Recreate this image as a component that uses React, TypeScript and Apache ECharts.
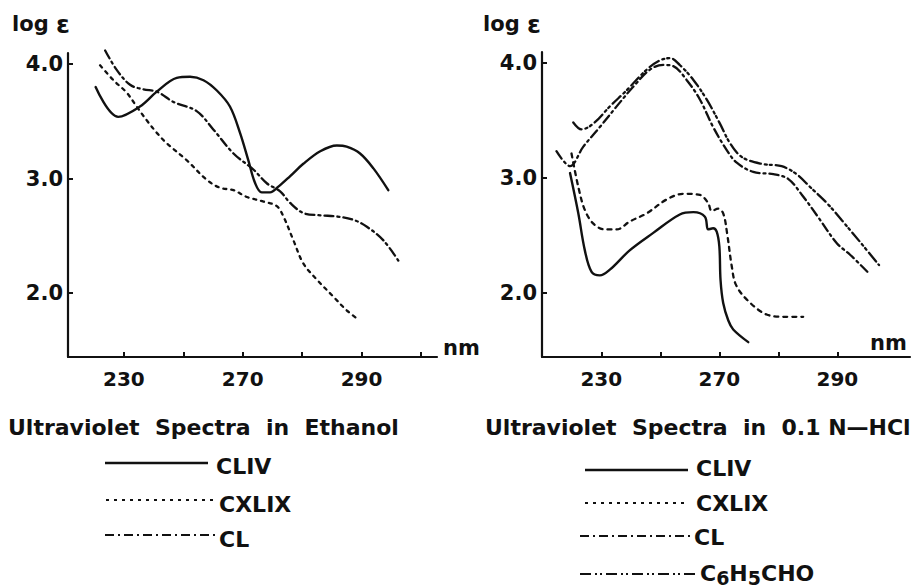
import React, { useEffect, useRef } from "react";
import * as echarts from "echarts";

// ---- axis ticks / labels ----
const xTickValuesLeft = [230, 250, 270, 290, 310, 330];
const xTickValuesRight = [230, 250, 270, 290, 310];
const xLabelValues = [230, 270, 310];
const xLabelTexts = ["230", "270", "290"];
const yLabelValues = [2, 3, 4];

// ---- Ethanol panel ----
const ethCLIV_nm = [220.5, 228.1, 235.4, 241.1, 247.8, 252.3, 256.8, 261.3, 265.7, 269.1, 271.9, 274.2, 276.4, 279.2, 282.0, 285.9, 290.4, 296.1, 301.7, 305.0, 309.5, 314.0, 319.0];
const ethCLIV_log = [3.80, 3.54, 3.63, 3.76, 3.88, 3.89, 3.86, 3.77, 3.63, 3.40, 3.16, 2.96, 2.88, 2.88, 2.93, 3.02, 3.13, 3.24, 3.29, 3.28, 3.22, 3.09, 2.90];

const ethCXLIX_nm = [222.0, 226.5, 231.0, 234.3, 237.7, 241.1, 244.4, 251.2, 257.9, 262.4, 266.9, 271.4, 277.0, 281.5, 283.7, 287.1, 290.4, 294.9, 300.5, 305.0, 308.9];
const ethCXLIX_log = [3.99, 3.86, 3.75, 3.63, 3.51, 3.40, 3.31, 3.16, 2.99, 2.92, 2.90, 2.84, 2.80, 2.76, 2.67, 2.46, 2.26, 2.12, 1.97, 1.85, 1.77];

const ethCL_nm = [223.7, 227.6, 232.1, 236.6, 241.1, 246.7, 254.5, 260.1, 266.9, 273.6, 278.1, 282.6, 285.9, 290.4, 296.1, 301.7, 307.3, 311.8, 317.4, 323.0];
const ethCL_log = [4.12, 3.95, 3.82, 3.78, 3.76, 3.67, 3.59, 3.43, 3.22, 3.08, 2.96, 2.89, 2.79, 2.70, 2.68, 2.67, 2.64, 2.58, 2.46, 2.26];

// ---- 0.1 N-HCl panel ----
const hclCLIV_nm = [219.4, 222.2, 224.4, 226.7, 229.5, 232.9, 239.7, 247.6, 256.6, 261.2, 265.1, 266.2, 267.9, 269.1, 270.0, 270.4, 271.3, 273.0, 274.7, 279.8];
const hclCLIV_log = [3.04, 2.69, 2.37, 2.18, 2.15, 2.20, 2.37, 2.52, 2.68, 2.70, 2.66, 2.55, 2.56, 2.53, 2.40, 2.11, 1.91, 1.76, 1.68, 1.57];

const hclCXLIX_nm = [219.9, 222.2, 224.4, 227.3, 231.2, 235.2, 239.7, 245.4, 252.1, 257.8, 263.4, 266.2, 267.4, 269.6, 271.3, 272.6, 274.2, 275.6, 279.3, 286.0, 292.2, 298.4];
const hclCXLIX_log = [3.21, 2.92, 2.72, 2.60, 2.55, 2.55, 2.62, 2.69, 2.81, 2.86, 2.85, 2.78, 2.71, 2.73, 2.69, 2.52, 2.23, 2.07, 1.94, 1.81, 1.79, 1.79];

const hclCL_nm = [214.8, 219.4, 223.9, 229.5, 235.2, 240.8, 246.5, 251.0, 254.4, 258.9, 263.4, 267.9, 272.5, 275.9, 281.5, 288.3, 293.3, 298.0, 303.4, 309.8, 314.3, 320.2];
const hclCL_log = [3.23, 3.10, 3.27, 3.44, 3.62, 3.79, 3.94, 3.98, 3.97, 3.85, 3.68, 3.44, 3.24, 3.13, 3.05, 3.03, 2.99, 2.85, 2.66, 2.43, 2.33, 2.18];

const hclBenz_nm = [220.5, 223.3, 227.3, 232.9, 238.6, 245.4, 249.9, 253.3, 256.6, 261.2, 265.7, 270.2, 273.6, 277.6, 284.3, 291.1, 296.2, 300.7, 306.4, 311.5, 317.7, 324.1];
const hclBenz_log = [3.48, 3.42, 3.47, 3.62, 3.76, 3.94, 4.02, 4.04, 3.98, 3.85, 3.68, 3.47, 3.30, 3.18, 3.12, 3.10, 3.03, 2.92, 2.78, 2.63, 2.44, 2.24];

const INK = "#111";
const FONT = "DejaVu Sans";

const zip = (xs: number[], ys: number[]) => xs.map((x, i) => [x, ys[i]]);

function xAxis(gridIndex: number, min: number, max: number, ticks: number[]) {
  return {
    type: "value",
    gridIndex,
    min,
    max,
    axisLine: { show: true, onZero: false, lineStyle: { color: INK, width: 2.2 } },
    axisTick: { show: true, inside: true, length: 5, customValues: ticks, lineStyle: { color: INK, width: 2 } },
    axisLabel: {
      show: true,
      customValues: xLabelValues,
      formatter: (v: number) => {
        const i = xLabelValues.indexOf(Math.round(v));
        return i >= 0 ? xLabelTexts[i] : "";
      },
      color: INK,
      fontFamily: FONT,
      fontWeight: "bold",
      fontSize: 20,
      margin: 12,
    },
    splitLine: { show: false },
  };
}

function yAxis(gridIndex: number, min: number, max: number) {
  return {
    type: "value",
    gridIndex,
    min,
    max,
    axisLine: { show: true, onZero: false, lineStyle: { color: INK, width: 2.2 } },
    axisTick: { show: true, inside: true, length: 5, customValues: yLabelValues, lineStyle: { color: INK, width: 2 } },
    axisLabel: {
      show: true,
      customValues: yLabelValues,
      formatter: (v: number) => v.toFixed(1),
      color: INK,
      fontFamily: FONT,
      fontWeight: "bold",
      fontSize: 21,
      margin: 5,
    },
    splitLine: { show: false },
  };
}

function series(name: string, xi: number, data: number[][], dash: any, width: number) {
  return {
    name,
    type: "line",
    xAxisIndex: xi,
    yAxisIndex: xi,
    data,
    smooth: 0.35,
    showSymbol: false,
    symbol: "none",
    clip: false,
    lineStyle: { color: INK, width, type: dash, cap: "round" },
    silent: true,
  };
}

const DOT = [3, 5];
const DASH = [4, 5];
const DASHDOT = [9, 4, 2, 4];
const DASHDOTDOT = [11, 4, 2, 3, 2, 4];

function text(t: string, x: number, y: number, size: number, extra: any = {}) {
  return {
    type: "text",
    x,
    y,
    style: {
      text: t,
      fill: INK,
      fontFamily: FONT,
      fontWeight: "bold",
      fontSize: size,
      verticalAlign: "middle",
      textVerticalAlign: "middle",
      align: "left",
      ...extra,
    },
  };
}

function logEps(x: number, y: number) {
  return text("{a|log} {b|ε}", x, y, 21, {
    rich: {
      a: { fontSize: 21, fontWeight: "bold", fontFamily: FONT, fill: INK },
      b: { fontSize: 25, fontWeight: "bold", fontFamily: FONT, fill: INK },
    },
  });
}

function legLine(x1: number, x2: number, y: number, dash: any, w = 2.2) {
  return {
    type: "line",
    shape: { x1, y1: y, x2, y2: y },
    style: { stroke: INK, lineWidth: w, lineDash: dash },
  };
}

export default function App() {
  const ref = useRef<HTMLDivElement>(null);
  useEffect(() => {
    if (!ref.current) return;
    const chart = echarts.init(ref.current, undefined, { renderer: "svg" });
    chart.setOption({
      animation: false,
      backgroundColor: "#fff",
      grid: [
        { left: 68, top: 53, width: 369, height: 304, containLabel: false },
        { left: 542, top: 52, width: 368, height: 305, containLabel: false },
      ],
      xAxis: [xAxis(0, 211.2, 335.4, xTickValuesLeft), xAxis(1, 209.9, 334.6, xTickValuesRight)],
      yAxis: [yAxis(0, 1.4425, 4.0976), yAxis(1, 1.4406, 4.0928)],
      series: [
        series("CLIV", 0, zip(ethCLIV_nm, ethCLIV_log), "solid", 2.4),
        series("CXLIX", 0, zip(ethCXLIX_nm, ethCXLIX_log), DOT, 2.3),
        series("CL", 0, zip(ethCL_nm, ethCL_log), DASHDOT, 2.3),
        series("CLIV", 1, zip(hclCLIV_nm, hclCLIV_log), "solid", 2.4),
        series("CXLIX", 1, zip(hclCXLIX_nm, hclCXLIX_log), DASH, 2.3),
        series("CL", 1, zip(hclCL_nm, hclCL_log), DASHDOT, 2.3),
        series("C6H5CHO", 1, zip(hclBenz_nm, hclBenz_log), DASHDOTDOT, 2.3),
      ],
      graphic: [
        logEps(12, 24),
        logEps(483, 24),
        text("nm", 443, 348, 21),
        text("nm", 870, 343, 21),
        text("Ultraviolet  Spectra  in  Ethanol", 8, 427, 22),
        text("Ultraviolet  Spectra  in  0.1 N—HCl", 485, 427, 22),
        legLine(105, 208, 463, [], 2.6),
        text("CLIV", 216, 466, 22),
        legLine(106, 218, 500, DOT),
        text("CXLIX", 219, 504, 22),
        legLine(105, 218, 535, DASHDOT),
        text("CL", 219, 539, 22),
        legLine(585, 688, 470, [], 2.6),
        text("CLIV", 696, 468, 22),
        legLine(585, 688, 503, DOT),
        text("CXLIX", 696, 503, 22),
        legLine(580, 693, 536, DASHDOT),
        text("CL", 694, 537, 22),
        legLine(580, 697, 574, DASHDOTDOT),
        {
          type: "text",
          x: 700,
          y: 573,
          style: {
            text: "{n|C}{s|6}{n|H}{s|5}{n|CHO}",
            fill: INK,
            fontFamily: FONT,
            fontWeight: "bold",
            fontSize: 22,
            verticalAlign: "middle",
            textVerticalAlign: "middle",
            rich: {
              n: { fontSize: 22, fontWeight: "bold", fontFamily: FONT, fill: INK },
              s: { fontSize: 19, fontWeight: "bold", fontFamily: FONT, fill: INK, padding: [10, 0, 0, 0] },
            },
          },
        },
      ],
    });
    return () => chart.dispose();
  }, []);
  return (
    <div
      ref={ref}
      style={{ position: "absolute", left: 0, top: 0, width: 912, height: 588, background: "#fff" }}
    />
  );
}
